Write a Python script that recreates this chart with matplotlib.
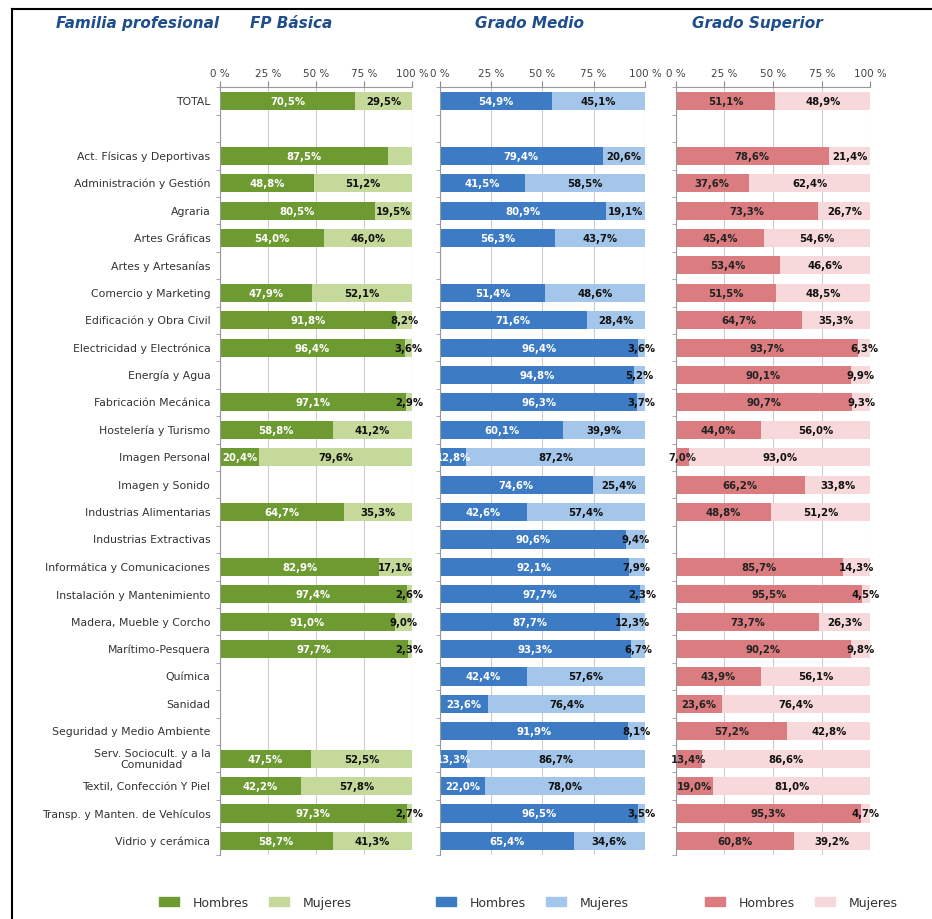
import matplotlib.pyplot as plt
import numpy as np
from matplotlib.patches import Patch
from matplotlib.lines import Line2D

nan = np.nan

# Familias profesionales (fila vacía entre TOTAL y el resto)
familias = ["TOTAL", "", "Act. Físicas y Deportivas", "Administración y Gestión", "Agraria",
            "Artes Gráficas", "Artes y Artesanías", "Comercio y Marketing",
            "Edificación y Obra Civil", "Electricidad y Electrónica", "Energía y Agua",
            "Fabricación Mecánica", "Hostelería y Turismo", "Imagen Personal",
            "Imagen y Sonido", "Industrias Alimentarias", "Industrias Extractivas",
            "Informática y Comunicaciones", "Instalación y Mantenimiento",
            "Madera, Mueble y Corcho", "Marítimo-Pesquera", "Química", "Sanidad",
            "Seguridad y Medio Ambiente", "Serv. Sociocult. y a la\nComunidad",
            "Textil, Confección Y Piel", "Transp. y Manten. de Vehículos", "Vidrio y cerámica"]

# % hombres / mujeres por nivel
fp_h = [70.5, nan, 87.5, 48.8, 80.5, 54.0, nan, 47.9, 91.8, 96.4, nan, 97.1, 58.8, 20.4,
        nan, 64.7, nan, 82.9, 97.4, 91.0, 97.7, nan, nan, nan, 47.5, 42.2, 97.3, 58.7]
fp_m = [29.5, nan, 12.5, 51.2, 19.5, 46.0, nan, 52.1, 8.2, 3.6, nan, 2.9, 41.2, 79.6,
        nan, 35.3, nan, 17.1, 2.6, 9.0, 2.3, nan, nan, nan, 52.5, 57.8, 2.7, 41.3]
gm_h = [54.9, nan, 79.4, 41.5, 80.9, 56.3, nan, 51.4, 71.6, 96.4, 94.8, 96.3, 60.1, 12.8,
        74.6, 42.6, 90.6, 92.1, 97.7, 87.7, 93.3, 42.4, 23.6, 91.9, 13.3, 22.0, 96.5, 65.4]
gm_m = [45.1, nan, 20.6, 58.5, 19.1, 43.7, nan, 48.6, 28.4, 3.6, 5.2, 3.7, 39.9, 87.2,
        25.4, 57.4, 9.4, 7.9, 2.3, 12.3, 6.7, 57.6, 76.4, 8.1, 86.7, 78.0, 3.5, 34.6]
gs_h = [51.1, nan, 78.6, 37.6, 73.3, 45.4, 53.4, 51.5, 64.7, 93.7, 90.1, 90.7, 44.0, 7.0,
        66.2, 48.8, nan, 85.7, 95.5, 73.7, 90.2, 43.9, 23.6, 57.2, 13.4, 19.0, 95.3, 60.8]
gs_m = [48.9, nan, 21.4, 62.4, 26.7, 54.6, 46.6, 48.5, 35.3, 6.3, 9.9, 9.3, 56.0, 93.0,
        33.8, 51.2, nan, 14.3, 4.5, 26.3, 9.8, 56.1, 76.4, 42.8, 86.6, 81.0, 4.7, 39.2]

# etiquetas que no aparecen en el original
fp_m_sin_etiqueta = ["Act. Físicas y Deportivas"]

ticks = [0, 25, 50, 75, 100]
titulo_color = "#1F4E8F"

paneles = [
    # titulo, hombres, mujeres, color H, color M, texto H, [left, width], x titulo, x leyenda
    ("FP Básica", fp_h, fp_m, "#6E9A32", "#C4D99A", "white", [0.236, 0.206], 0.268, 0.274),
    ("Grado Medio", gm_h, gm_m, "#3D7BC4", "#A4C6EA", "white", [0.472, 0.220], 0.510, 0.571),
    ("Grado Superior", gs_h, gs_m, "#DB7D80", "#F7D8DB", "#222222", [0.725, 0.209], 0.743, 0.86),
]


def fmt(v):
    return ("%.1f%%" % v).replace(".", ",")


fig = plt.figure(figsize=(9.32, 9.2), dpi=100)
y = np.arange(len(familias))

for titulo, hom, muj, c_h, c_m, txt_h, pos, tit_x, leg_x in paneles:
    ax = fig.add_axes([pos[0], 0.070, pos[1], 0.834])
    hom = np.array(hom)
    muj = np.array(muj)
    ax.barh(y, hom, height=0.66, color=c_h, zorder=2)
    ax.barh(y, muj, left=hom, height=0.66, color=c_m, zorder=2)
    for i in range(len(familias)):
        if np.isnan(hom[i]):
            continue
        ax.text(hom[i] / 2, i, fmt(hom[i]), ha="center", va="center", fontsize=7.3,
                fontweight="bold", color=txt_h, zorder=3)
        if titulo == "FP Básica" and familias[i] in fp_m_sin_etiqueta:
            continue
        ax.text(hom[i] + muj[i] / 2, i, fmt(muj[i]), ha="center", va="center", fontsize=7.3,
                fontweight="bold", color="#111111", zorder=3)

    ax.set_xlim(0, 100)
    ax.set_ylim(len(familias) - 0.5, -0.5)
    ax.xaxis.tick_top()
    ax.set_xticks(ticks)
    ax.set_xticklabels([str(t) + " %" for t in ticks], fontsize=7.5, color="#444444")
    ax.tick_params(axis="x", length=4, color="#888888", pad=3)
    ax.set_yticks(y)
    ax.set_yticklabels([])
    ax.tick_params(axis="y", which="major", length=0)
    ax.set_yticks(np.arange(len(familias) + 1) - 0.5, minor=True)
    ax.tick_params(axis="y", which="minor", length=3, color="#999999")
    ax.grid(axis="x", color="#CCCCCC", linewidth=0.8, zorder=0)
    for s in ["right", "bottom"]:
        ax.spines[s].set_visible(False)
    for s in ["top", "left"]:
        ax.spines[s].set_color("#999999")
        ax.spines[s].set_linewidth(0.8)

    if titulo == "FP Básica":
        for i, f in enumerate(familias):
            ax.text(-5, i, f, ha="right", va="center", multialignment="center",
                    fontsize=7.8, color="#333333")

    fig.text(tit_x, 0.974, titulo, fontsize=11, fontweight="bold", fontstyle="italic",
             color=titulo_color, va="center")

    handles = [Patch(color=c_h, label="Hombres"), Patch(color=c_m, label="Mujeres")]
    fig.legend(handles=handles, loc="center", bbox_to_anchor=(leg_x, 0.018), ncol=2,
               frameon=False, fontsize=9, handlelength=1.6, handleheight=0.8,
               handletextpad=1.1, columnspacing=1.6, labelcolor="#333333")

fig.text(0.06, 0.974, "Familia profesional", fontsize=11, fontweight="bold",
         fontstyle="italic", color=titulo_color, va="center")

# marco
fig.add_artist(Line2D([0.013, 1.0], [0.989, 0.989], color="black", linewidth=1.5))
fig.add_artist(Line2D([0.013, 0.013], [0.0, 0.989], color="black", linewidth=1.5))

fig.savefig("out.png", dpi=100)
